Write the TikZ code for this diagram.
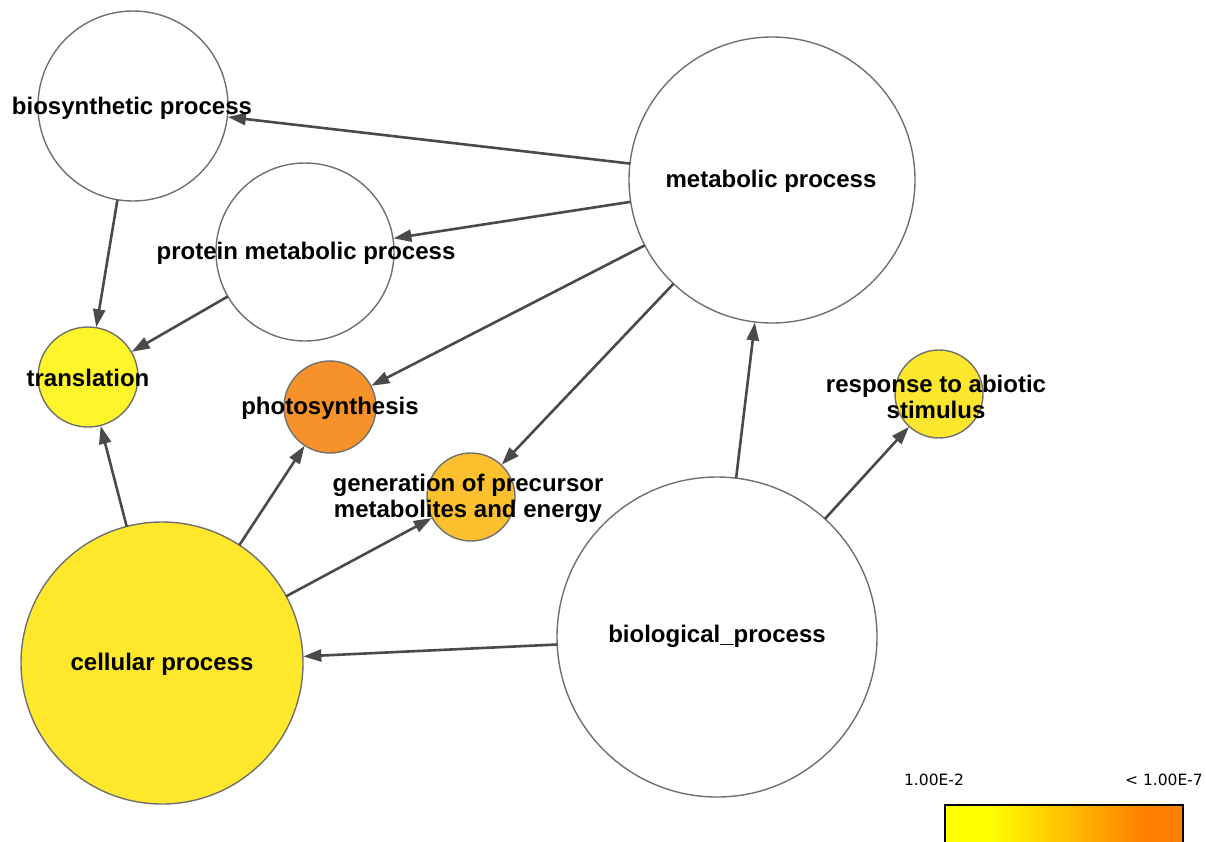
\documentclass[tikz,border=0pt]{standalone}
\usepackage{fontspec}
\setmainfont{Liberation Sans}
\newfontfamily\legendfont{DejaVu Sans}
\usetikzlibrary{arrows.meta}
\definecolor{edgec}{HTML}{4A4A4A}
\definecolor{ringc}{HTML}{707070}
\definecolor{ctrans}{HTML}{FFF52A}
\definecolor{ccell}{HTML}{FFE82C}
\definecolor{cphoto}{HTML}{F7922A}
\definecolor{cgen}{HTML}{FDC02F}
\definecolor{cresp}{HTML}{FCE62E}
\definecolor{lorange}{HTML}{FF8000}
\definecolor{lyellow}{HTML}{FFFF00}
\pgfdeclarehorizontalshading{legshade}{100bp}{color(0bp)=(lyellow); color(34bp)=(lyellow); color(67bp)=(lorange); color(100bp)=(lorange)}
\tikzset{
  circ/.style={circle, draw=ringc, line width=1.4pt, inner sep=0pt, outer sep=0pt},
  lbl/.style={font=\fontsize{24}{26}\selectfont\bfseries, text=black, align=center, inner sep=0pt},
  edge/.style={draw=edgec, line width=2.6pt, -{Triangle[length=18pt,width=12pt]}, shorten >=0.5pt},
  legtext/.style={font=\legendfont\fontsize{15.5}{17}\selectfont, inner sep=0pt},
}
\begin{document}
\begin{tikzpicture}[x=1pt,y=-1pt]
\useasboundingbox (0,0) rectangle (1206,841);
% circles
\node[circ, fill=white, minimum size=190pt] (bio) at (133,106) {};
\node[circ, fill=white, minimum size=178pt] (prot) at (305,252) {};
\node[circ, fill=white, minimum size=286pt] (meta) at (772,180) {};
\node[circ, fill=ctrans, minimum size=100pt] (trans) at (88,377) {};
\node[circ, fill=cphoto, minimum size=92pt] (photo) at (330,407) {};
\node[circ, fill=cgen, minimum size=88pt] (gen) at (471,497) {};
\node[circ, fill=cresp, minimum size=88pt] (resp) at (939,394) {};
\node[circ, fill=ccell, minimum size=282pt] (cell) at (162,663) {};
\node[circ, fill=white, minimum size=320pt] (biol) at (717,637) {};
% edges
\draw[edge] (meta) -- (bio);
\draw[edge] (meta) -- (prot);
\draw[edge] (meta) -- (photo);
\draw[edge] (meta) -- (gen);
\draw[edge] (bio) -- (trans);
\draw[edge] (prot) -- (trans);
\draw[edge] (cell) -- (trans);
\draw[edge] (cell) -- (photo);
\draw[edge] (cell) -- (gen);
\draw[edge] (biol) -- (cell);
\draw[edge] (biol) -- (meta);
\draw[edge] (biol) -- (resp);
% labels
\node[lbl] (lbio) at (132,108) {biosynthetic process};
\node[lbl] (lprot) at (306,253) {protein metabolic process};
\node[lbl] (lmeta) at (771,181) {metabolic process};
\node[lbl] (ltrans) at (88,378) {translation};
\node[lbl] (lphoto) at (330,408) {photosynthesis};
\node[lbl] (lgen) at (468,498) {generation of precursor\\metabolites and energy};
\node[lbl] (lresp) at (936,397) {response to abiotic\\stimulus};
\node[lbl] (lcell) at (162,664) {cellular process};
\node[lbl] (lbiol) at (717,636) {biological\_process};
% legend
\shade[shading=legshade] (945,805) rectangle (1183,845);
\draw[black, line width=1.4pt] (945,845) -- (945,805) -- (1183,805) -- (1183,845);
\node[legtext] (lo) at (934,780) {1.00E-2};
\node[legtext] (hi) at (1164,780) {< 1.00E-7};
\end{tikzpicture}
\end{document}
